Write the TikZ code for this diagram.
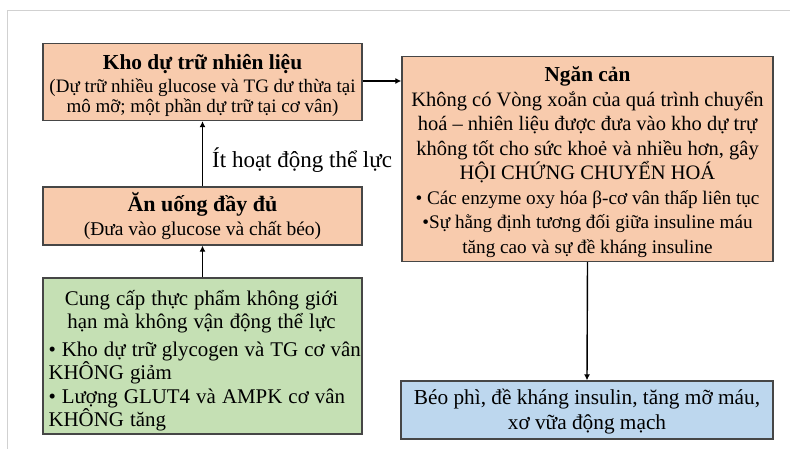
\documentclass[tikz,border=0pt]{standalone}
\usepackage{fontspec}
\setmainfont{Liberation Serif}
\usetikzlibrary{arrows.meta}
\definecolor{peach}{RGB}{248,203,173}
\definecolor{lgreen}{RGB}{197,224,180}
\definecolor{lblue}{RGB}{189,215,238}
\definecolor{bord}{RGB}{70,70,70}
\tikzset{
  boxx/.style={draw=bord, line width=1.3pt, inner sep=0pt},
  txt/.style={inner sep=0pt, align=center},
  arr/.style={line width=1.4pt, -{Latex[length=6pt,width=6pt]}},
}
\newcommand{\fs}[2]{\fontsize{#1}{#2}\selectfont}
\begin{document}
\begin{tikzpicture}[x=1pt,y=-1pt]
\useasboundingbox (0,0) rectangle (790,449);
\draw[black!18, line width=0.8pt] (7,449) -- (7,10) -- (790,10);

% boxes
\node[boxx, fill=peach, minimum width=319pt, minimum height=77pt] (kho) at (202.5,82) {};
\node[boxx, fill=peach, minimum width=319pt, minimum height=58pt] (an) at (202.5,216) {};
\node[boxx, fill=lgreen, minimum width=319pt, minimum height=156pt] (cung) at (202.5,356) {};
\node[boxx, fill=peach, minimum width=371pt, minimum height=205pt] (ngan) at (587.5,159) {};
\node[boxx, fill=lblue, minimum width=372pt, minimum height=58pt] (beo) at (587,410) {};

% texts
\node[txt, font=\fs{19}{20}] (khoT) at (202.5,85)
  {\fs{21.4}{20}\textbf{Kho dự trữ nhiên liệu}\\[3pt]
   (Dự trữ nhiều glucose và TG dư thừa tại\\ mô mỡ; một phần dự trữ tại cơ vân)};

\node[txt, font=\fs{19.5}{24}] (anT) at (202.5,216)
  {\fs{22}{24}\textbf{Ăn uống đầy đủ}\\
   (Đưa vào glucose và chất béo)};

\node[txt, text width=306pt, font=\fs{18.2}{23}] (cungT) at (201.5,361)
  {\fs{20.9}{23}Cung cấp thực phẩm không giới\\ \fs{20.9}{23}hạn mà không vận động thể lực\\[5pt]
   \makebox[306pt][s]{• Kho dự trữ glycogen và TG cơ vân}\\
   \makebox[306pt][l]{KHÔNG giảm}\\[1pt]
   \makebox[306pt][s]{• Lượng GLUT4 và AMPK cơ vân}\\
   \makebox[306pt][l]{KHÔNG tăng}};

\node[txt, font=\fs{20.5}{24.5}] (nganT) at (587.5,162)
  {\fs{21.3}{24.5}\textbf{Ngăn cản}\\
   Không có Vòng xoắn của quá trình chuyển\\
   hoá – nhiên liệu được đưa vào kho dự trự\\
   không tốt cho sức khoẻ và nhiều hơn, gây\\
   HỘI CHỨNG CHUYỂN HOÁ\\
   \fs{19.2}{24.5}• Các enzyme oxy hóa β-cơ vân thấp liên tục\\
   \fs{19.2}{24.5}•Sự hằng định tương đối giữa insuline máu\\
   \fs{19.2}{24.5}tăng cao và sự đề kháng insuline};

\node[txt, font=\fs{21.3}{25}] (beoT) at (587,412)
  {Béo phì, đề kháng insulin, tăng mỡ máu,\\ xơ vữa động mạch};

\node[anchor=west, inner sep=0pt, font=\fs{23}{25}] (it) at (212,160) {Ít hoạt động thể lực};

\draw[arr] (cung.north) -- (an.south);
\draw[arr] (an.north) -- (kho.south);
\draw[arr] (kho.east |- 0,81) -- (ngan.west |- 0,81);
\draw[arr] (ngan.south) -- (beo.north);
\end{tikzpicture}
\end{document}
